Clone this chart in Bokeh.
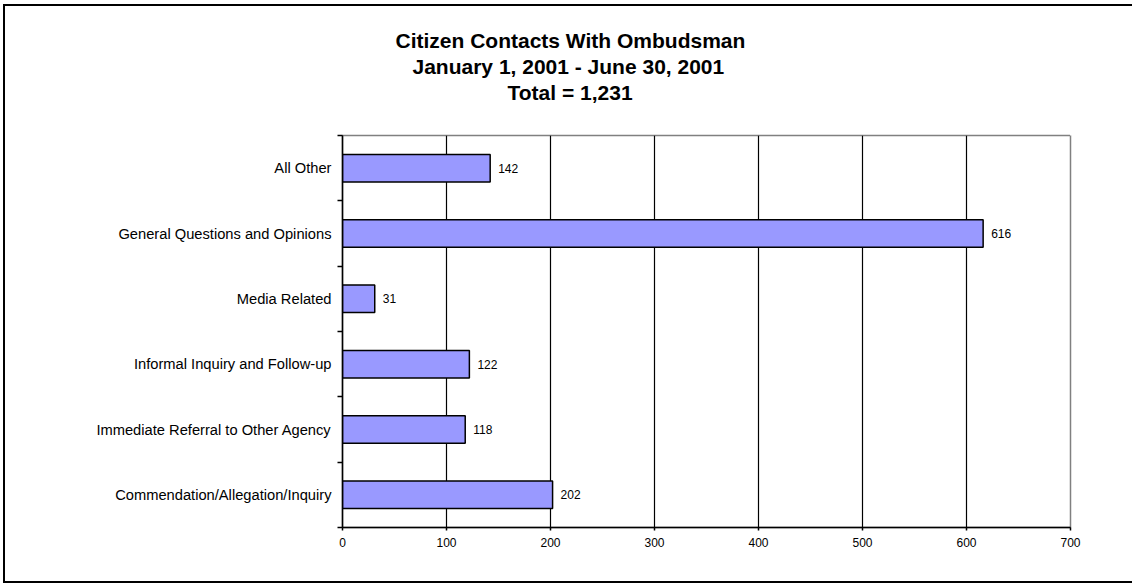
from bokeh.plotting import figure
from bokeh.models import Range1d, FixedTicker, ColumnDataSource, Title, LinearAxis
from bokeh.core.properties import value
from bokeh.embed import file_html
from bokeh.resources import INLINE

# ---- data (bottom to top) ----
categories = [
    "Commendation/Allegation/Inquiry",
    "Immediate Referral to Other Agency",
    "Informal Inquiry and Follow-up",
    "Media Related",
    "General Questions and Opinions",
    "All Other",
]
counts = [202, 118, 122, 31, 616, 142]
x_ticks = [0, 100, 200, 300, 400, 500, 600, 700]
title_lines = [
    "Citizen Contacts With Ombudsman",
    "January 1, 2001 - June 30, 2001",
    "Total = 1,231",
]

FONT = "Liberation Sans"
positions = list(range(1, len(categories) + 1))
source = ColumnDataSource(data=dict(
    y=positions, count=counts, label=[str(c) for c in counts], cat=categories))

p = figure(
    width=1129, height=579,
    x_range=Range1d(0, 700), y_range=Range1d(0.5, len(categories) + 0.5),
    output_backend="svg", toolbar_location=None,
    min_border_left=337, min_border_right=64, min_border_top=129, min_border_bottom=58,
    title=None,
)
p.styles = {
    "margin-left": "3px", "margin-top": "4px",
    "border-left": "2px solid black", "border-top": "2px solid black",
    "border-bottom": "2px solid black",
}

p.outline_line_color = "#808080"
p.outline_line_width = 1.5
p.background_fill_color = "white"
p.border_fill_color = "white"

# grid
p.ygrid.visible = False
p.xgrid.ticker = FixedTicker(ticks=x_ticks[1:-1])
p.xgrid.grid_line_color = "black"
p.xgrid.grid_line_width = 1.2

# bars
p.hbar(y="y", right="count", left=0, height=0.42, source=source,
       fill_color="#9999FF", line_color="black", line_width=1.5)

# value labels
p.text(x="count", y="y", text="label", source=source, x_offset=8,
       text_baseline="middle", text_align="left", text_font=value(FONT),
       text_font_size="12px", text_color="black")

# x axis
xa = p.xaxis[0]
xa.ticker = FixedTicker(ticks=x_ticks)
xa.axis_line_color = "black"
xa.axis_line_width = 1.5
xa.major_tick_line_color = "black"
xa.major_tick_line_width = 1.5
xa.major_tick_in = 0
xa.major_tick_out = 3
xa.minor_tick_line_color = None
xa.major_label_text_font = FONT
xa.major_label_text_font_size = "12px"
xa.major_label_text_color = "black"
xa.major_label_standoff = 7

# y axis
ya = p.yaxis[0]
ya.ticker = FixedTicker(ticks=positions, minor_ticks=[i + 0.5 for i in range(len(categories) + 1)])
ya.major_label_overrides = {pos: cat for pos, cat in zip(positions, categories)}
ya.axis_line_color = "black"
ya.axis_line_width = 1.5
ya.major_tick_in = 0
ya.major_tick_out = 0
ya.minor_tick_in = 0
ya.minor_tick_out = 5
ya.minor_tick_line_color = "black"
ya.minor_tick_line_width = 1.5
ya.major_label_text_font = FONT
ya.major_label_text_font_size = "14.7px"
ya.major_label_text_color = "black"
ya.major_label_standoff = 6

# invisible spacer between the frame and the title block (one white tick, no label)
spacer = LinearAxis(ticker=FixedTicker(ticks=[x_ticks[-1]]), axis_line_color=None,
                    major_tick_line_color="white", minor_tick_line_color=None,
                    major_tick_out=31, major_tick_in=0, minor_tick_out=0,
                    major_label_standoff=0, major_label_text_font_size="0px",
                    major_label_overrides={x_ticks[-1]: ""})
p.add_layout(spacer, "above")

# title: three bold lines, centred over the whole chart (stacked upward from the frame)
title_offsets = [53, 70, 165]      # left-edge shift of each line from the frame's left
for txt, off in reversed(list(zip(title_lines, title_offsets))):
    p.add_layout(Title(text=txt, align="left", offset=off, standoff=1,
                       vertical_align="bottom",
                       text_font=FONT, text_font_style="bold",
                       text_font_size="21px", text_color="black"), "above")

open("out.html", "w").write(file_html(p, INLINE))
